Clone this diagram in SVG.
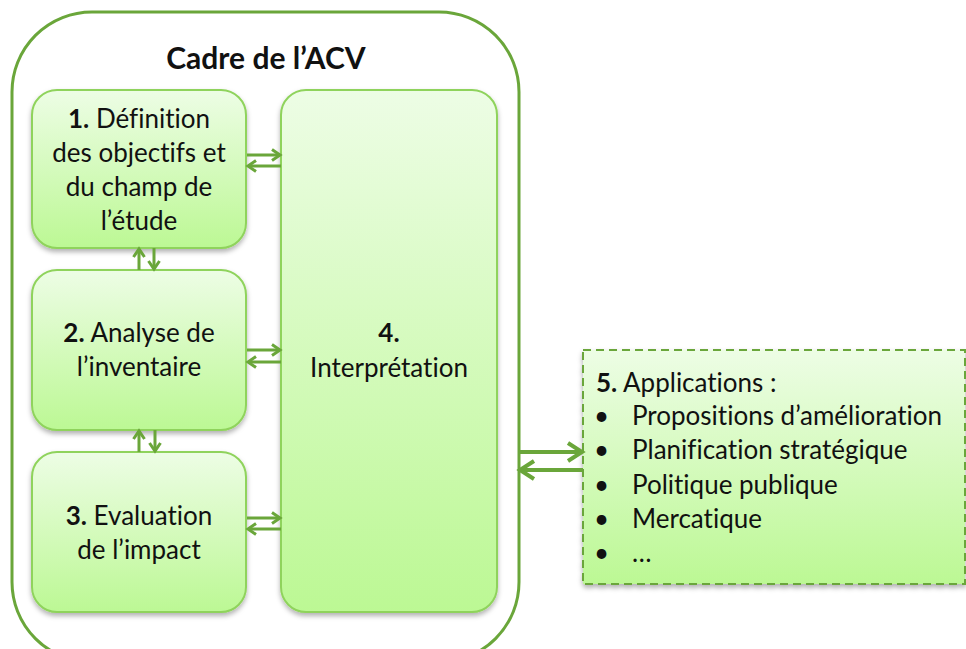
<svg xmlns="http://www.w3.org/2000/svg" width="966" height="649" viewBox="0 0 966 649">
<style>
.box{stroke:#8fd35c;stroke-width:2;fill:url(#g)}
.t{font-family:Lato,"Liberation Sans",sans-serif;font-size:26px;fill:#111;text-anchor:middle;font-variant-ligatures:none}
.l{font-family:Lato,"Liberation Sans",sans-serif;font-size:26px;fill:#111;font-variant-ligatures:none}
.b{font-weight:bold}
.c{stroke:#6aa63a;stroke-width:3;fill:none}
</style>
<defs>
<linearGradient id="g" x1="0" y1="0" x2="0" y2="1">
<stop offset="0" stop-color="#edfde5"/>
<stop offset="1" stop-color="#bcf894"/>
</linearGradient>
<filter id="sh" x="-10%" y="-10%" width="120%" height="120%">
<feDropShadow dx="0" dy="3" stdDeviation="2.5" flood-color="#000" flood-opacity="0.3"/>
</filter>
<marker id="a" markerWidth="14" markerHeight="14" refX="11" refY="7" orient="auto" markerUnits="userSpaceOnUse">
<path d="M3,1.5 L11,7 L3,12.5" fill="none" stroke="#6aa63a" stroke-width="3"/>
</marker>
<marker id="A" markerWidth="22" markerHeight="22" refX="18" refY="11" orient="auto" markerUnits="userSpaceOnUse">
<path d="M4,2 L18,11 L4,20" fill="none" stroke="#6aa63a" stroke-width="4"/>
</marker>
</defs>
<rect width="966" height="649" fill="#fff"/>
<g id="frame">
<rect x="12" y="12" width="507" height="650" rx="80" ry="80" fill="#fff" stroke="#6aa63a" stroke-width="3"/>
<text x="266" y="69" class="t b" style="font-size:30px">Cadre de l’ACV</text>
</g>
<g id="n1">
<rect class="box" x="32" y="90" width="214" height="158" rx="25" filter="url(#sh)"/>
<text class="t" x="139" y="128"><tspan class="b">1.</tspan> Définition</text>
<text class="t" x="139" y="162">des objectifs et</text>
<text class="t" x="139" y="196">du champ de</text>
<text class="t" x="139" y="230">l’étude</text>
</g>
<g id="n2">
<rect class="box" x="32" y="270" width="214" height="160" rx="25" filter="url(#sh)"/>
<text class="t" x="139" y="342"><tspan class="b">2.</tspan> Analyse de</text>
<text class="t" x="139" y="376">l’inventaire</text>
</g>
<g id="n3">
<rect class="box" x="32" y="452" width="214" height="160" rx="25" filter="url(#sh)"/>
<text class="t" x="139" y="525"><tspan class="b">3.</tspan> Evaluation</text>
<text class="t" x="139" y="559">de l’impact</text>
</g>
<g id="n4">
<rect class="box" x="281" y="90" width="216" height="522" rx="25" filter="url(#sh)"/>
<text class="t b" x="389" y="342">4.</text>
<text class="t" x="389" y="377">Interprétation</text>
</g>
<g id="n5">
<rect x="583" y="350" width="382" height="234" fill="url(#g)" stroke="#6aa63a" stroke-width="2" stroke-dasharray="8,5" filter="url(#sh)"/>
<text class="l" x="596" y="392"><tspan class="b">5.</tspan> Applications :</text>
<text class="l" x="594" y="425">•</text><text class="l" x="632" y="425">Propositions d’amélioration</text>
<text class="l" x="594" y="459">•</text><text class="l" x="632" y="459">Planification stratégique</text>
<text class="l" x="594" y="494">•</text><text class="l" x="632" y="494">Politique publique</text>
<text class="l" x="594" y="528">•</text><text class="l" x="632" y="528">Mercatique</text>
<text class="l" x="594" y="562">•</text><text class="l" x="632" y="562">…</text>
</g>
<g id="connectors">
<line class="c" x1="247" y1="155" x2="280" y2="155" marker-end="url(#a)"/>
<line class="c" x1="281" y1="166" x2="248" y2="166" marker-end="url(#a)"/>
<line class="c" x1="247" y1="350" x2="280" y2="350" marker-end="url(#a)"/>
<line class="c" x1="281" y1="362" x2="248" y2="362" marker-end="url(#a)"/>
<line class="c" x1="247" y1="518" x2="280" y2="518" marker-end="url(#a)"/>
<line class="c" x1="281" y1="529" x2="248" y2="529" marker-end="url(#a)"/>
<line class="c" x1="139" y1="270" x2="139" y2="249" marker-end="url(#a)"/>
<line class="c" x1="154" y1="248" x2="154" y2="269" marker-end="url(#a)"/>
<line class="c" x1="139" y1="452" x2="139" y2="431" marker-end="url(#a)"/>
<line class="c" x1="155" y1="430" x2="155" y2="451" marker-end="url(#a)"/>
<line class="c" style="stroke-width:4" x1="519" y1="452" x2="582" y2="452" marker-end="url(#A)"/>
<line class="c" style="stroke-width:4" x1="583" y1="470" x2="520" y2="470" marker-end="url(#A)"/>
</g>
</svg>
